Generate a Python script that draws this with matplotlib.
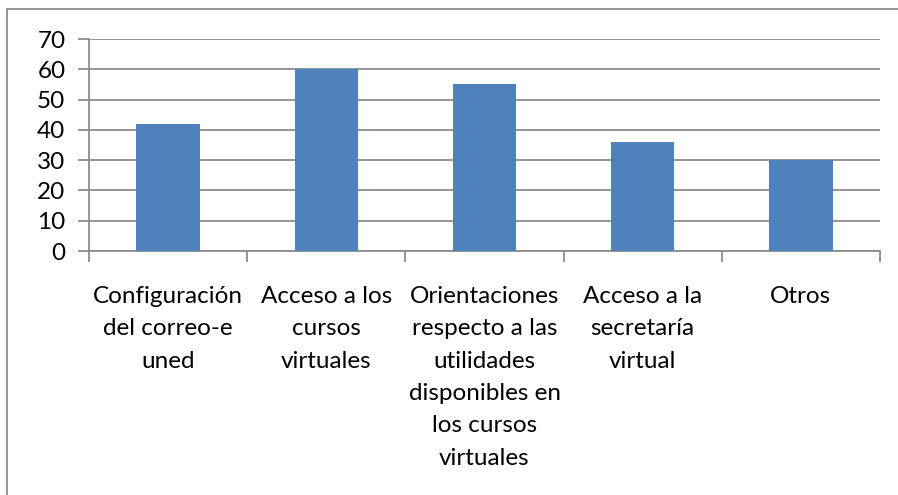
import matplotlib.pyplot as plt
from matplotlib.lines import Line2D

categories = [
    "Configuración\ndel correo-e\nuned",
    "Acceso a los\ncursos\nvirtuales",
    "Orientaciones\nrespecto a las\nutilidades\ndisponibles en\nlos cursos\nvirtuales",
    "Acceso a la\nsecretaría\nvirtual",
    "Otros",
]
values = [42, 60, 55, 36, 30]
y_ticks = [0, 10, 20, 30, 40, 50, 60, 70]

plt.rcParams["font.family"] = ["Lato", "DejaVu Sans"]

fig = plt.figure(figsize=(8.98, 4.95), dpi=100)
ax = fig.add_axes([89 / 898, 1 - 251 / 495, (880 - 89) / 898, (251 - 39) / 495])

x = list(range(len(categories)))
ax.bar(x, values, width=0.4, color="#4F81BD", zorder=3)

ax.set_xlim(-0.5, len(categories) - 0.5)
ax.set_ylim(0, 70)
ax.set_yticks(y_ticks)
ax.yaxis.grid(True, color="#8C8C8C", linewidth=1.3, zorder=0)

# category labels centred under the bars, ticks between categories
ax.set_xticks(x)
ax.set_xticklabels(categories, fontsize=17.5, linespacing=1.67, va="top", color="black")
ax.tick_params(axis="x", length=0, pad=25)
ax.set_xticks([i - 0.5 for i in range(len(categories) + 1)], minor=True)
ax.tick_params(axis="x", which="minor", length=8, width=1.3, color="#8C8C8C")
ax.tick_params(axis="y", length=8, width=1.3, color="#8C8C8C", labelsize=17.5,
               labelcolor="black", pad=9)

for side in ["top", "right"]:
    ax.spines[side].set_visible(False)
for side in ["left", "bottom"]:
    ax.spines[side].set_color("#8C8C8C")
    ax.spines[side].set_linewidth(1.3)

# outer chart border (left and top edges visible)
fig.add_artist(Line2D([7 / 898, 7 / 898], [0, 1 - 9 / 495], transform=fig.transFigure, color="#8C8C8C", linewidth=1.3))
fig.add_artist(Line2D([7 / 898, 1], [1 - 9 / 495, 1 - 9 / 495], transform=fig.transFigure, color="#8C8C8C", linewidth=1.3))

fig.savefig("out.png", dpi=100)
